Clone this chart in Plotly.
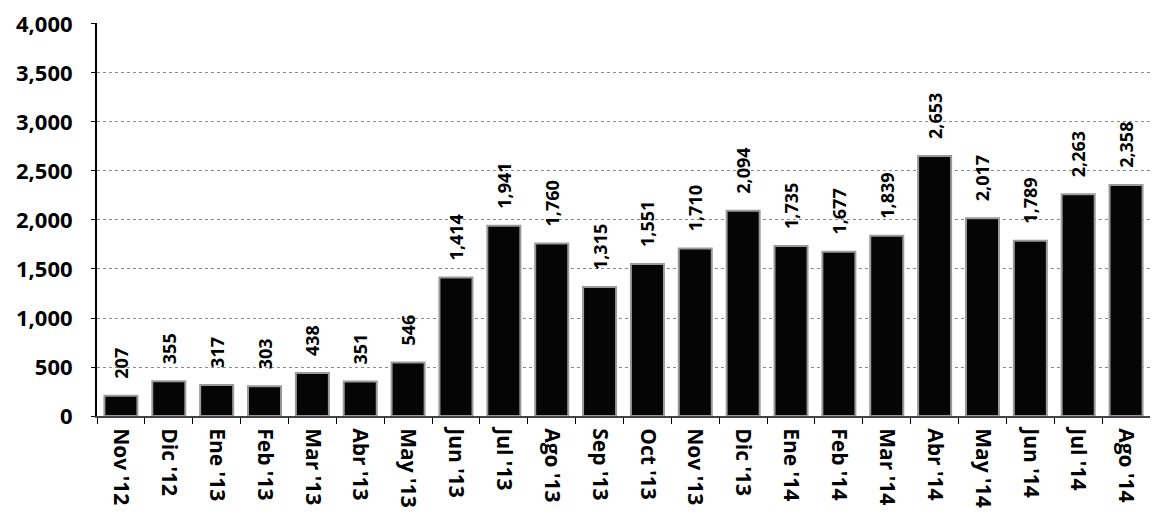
import plotly.graph_objects as go

categories = ["Nov '12", "Dic '12", "Ene '13", "Feb '13", "Mar '13", "Abr '13", "May '13",
              "Jun '13", "Jul '13", "Ago '13", "Sep '13", "Oct '13", "Nov '13", "Dic '13",
              "Ene '14", "Feb '14", "Mar '14", "Abr '14", "May '14", "Jun '14", "Jul '14", "Ago '14"]
values = [207, 355, 317, 303, 438, 351, 546, 1414, 1941, 1760, 1315, 1551, 1710, 2094,
          1735, 1677, 1839, 2653, 2017, 1789, 2263, 2358]
y_ticks = list(range(0, 4001, 500))

FONT = "Open Sans"

fig = go.Figure(go.Bar(
    x=categories, y=values,
    marker=dict(color="#050505", line=dict(color="#9a9a9a", width=2)),
    texttemplate="\u00a0\u00a0\u00a0%{y:,}", textposition="outside", textangle=-90,
    constraintext="none",
    textfont=dict(family=FONT, size=18, color="black", weight="bold"),
    cliponaxis=False,
))

fig.update_layout(
    width=1150, height=514,
    margin=dict(l=89, r=8, t=15, b=106, autoexpand=False),
    plot_bgcolor="white", paper_bgcolor="white",
    bargap=0.31, showlegend=False,
    font=dict(family=FONT, color="black"),
)
fig.update_yaxes(
    range=[0, 4010], tickvals=y_ticks, tickformat=",",
    tickfont=dict(family=FONT, size=22, color="black", weight="bold"),
    showgrid=True, gridcolor="#888888", griddash="dot", gridwidth=1,
    showline=True, linecolor="black", linewidth=2,
    ticks="outside", ticklen=4, tickcolor="black", zeroline=False,
    ticklabelstandoff=14, ticklabeloverflow="allow",
    automargin=False,
)
fig.update_xaxes(
    tickangle=90, tickson="boundaries", ticks="outside", ticklen=6, tickcolor="black",
    tickfont=dict(family=FONT, size=21, color="black", weight="bold"),
    showline=True, linecolor="#444444", linewidth=2,
    ticklabelstandoff=6, ticklabeloverflow="allow",
    automargin=False,
)

fig.write_html("out.html")
